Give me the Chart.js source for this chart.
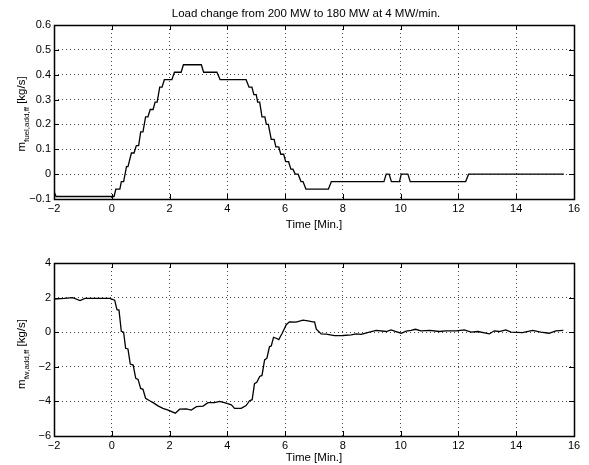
<!DOCTYPE html>
<html>
<head>
<meta charset="utf-8">
<script src="https://cdn.jsdelivr.net/npm/chart.js@4.4.0/dist/chart.umd.min.js"></script>
<style>
  html, body { margin: 0; padding: 0; background: #fff; }
  #wrap { position: relative; width: 589px; height: 465px; }
  canvas { position: absolute; left: 0; }
</style>
</head>
<body>
<div id="wrap">
  <canvas id="c1" width="589" height="232" style="top:0px"></canvas>
  <canvas id="c2" width="589" height="225" style="top:240px"></canvas>
</div>
<script>
// time axis ticks (minutes)
const timeTicks = [-2, 0, 2, 4, 6, 8, 10, 12, 14, 16];
const fuelTicks = [-0.1, 0, 0.1, 0.2, 0.3, 0.4, 0.5, 0.6];
const fwTicks = [-6, -4, -2, 0, 2, 4];

// additional fuel feed-forward [kg/s] (stepped signal)
const fuelT = [-2, -1.93, 0.08, 0.14, 0.28, 0.33, 0.41, 0.51, 0.56, 0.68, 0.77, 0.85, 0.93, 1.0, 1.08,
  1.17, 1.25, 1.33, 1.43, 1.5, 1.57, 1.66, 1.74, 1.82, 2.08, 2.17, 2.4, 2.48, 3.1, 3.18, 3.64, 3.75, 4.65,
  4.75, 4.85, 4.92, 5.0, 5.05, 5.12, 5.2, 5.3, 5.35, 5.42, 5.52, 5.62, 5.68, 5.78, 5.85, 5.95, 6.02, 6.12,
  6.2, 6.27, 6.35, 6.45, 6.55, 6.62, 6.72, 7.5, 7.6, 9.42, 9.5, 9.6, 9.68, 9.96, 10.02, 10.25, 10.33,
  12.25, 12.35, 15.65];
const fuelV = [-0.07, -0.09, -0.09, -0.06, -0.06, -0.03, -0.03, 0.03, 0.03, 0.085, 0.085, 0.115, 0.115, 0.17, 0.17,
  0.23, 0.23, 0.26, 0.26, 0.29, 0.29, 0.35, 0.35, 0.38, 0.38, 0.41, 0.41, 0.44, 0.44, 0.41, 0.41, 0.38, 0.38,
  0.35, 0.35, 0.32, 0.32, 0.29, 0.29, 0.23, 0.23, 0.2, 0.2, 0.14, 0.14, 0.11, 0.11, 0.08, 0.08, 0.05, 0.05,
  0.02, 0.02, 0.0, 0.0, -0.03, -0.03, -0.06, -0.06, -0.03, -0.03, 0.0, 0.0, -0.03, -0.03, 0.0, 0.0, -0.03,
  -0.03, 0.0, 0.0];

// additional feedwater feed-forward [kg/s]
const fwT = [-2, -1.65, -1.35, -1.1, -0.93, -0.07, 0.1, 0.18, 0.25, 0.33, 0.41, 0.48, 0.56, 0.64, 0.74,
  0.83, 0.91, 1.0, 1.08, 1.17, 1.31, 1.43, 1.6, 1.77, 1.95, 2.2, 2.35, 2.58, 2.75, 2.93, 3.16, 3.33, 3.56,
  3.73, 3.96, 4.14, 4.25, 4.48, 4.65, 4.77, 4.86, 4.94, 5.02, 5.12, 5.2, 5.29, 5.37, 5.46, 5.52, 5.6,
  5.69, 5.78, 5.9, 6.04, 6.15, 6.38, 6.62, 6.79, 6.96, 7.02, 7.08, 7.25, 7.42, 7.71, 8.0, 8.29, 8.46,
  8.63, 8.92, 9.15, 9.5, 9.67, 9.84, 10.02, 10.19, 10.36, 10.51, 10.7, 11.0, 11.34, 11.57, 11.92, 12.2,
  12.44, 12.67, 12.95, 13.07, 13.24, 13.41, 13.64, 13.82, 14.22, 14.57, 14.85, 15.14, 15.37, 15.63];
const fwV = [1.92, 1.95, 2.0, 1.83, 1.95, 1.95, 1.85, 1.3, 1.28, 0.05, 0.0, -0.93, -0.97, -1.84, -1.9,
  -2.67, -2.73, -3.25, -3.3, -3.82, -3.96, -4.07, -4.26, -4.4, -4.5, -4.68, -4.45, -4.43, -4.5, -4.3, -4.27, -4.07, -4.07,
  -4.0, -4.1, -4.2, -4.4, -4.4, -4.24, -3.96, -3.9, -2.98, -2.9, -2.56, -2.5, -1.6, -1.5, -0.83, -0.8, -0.3,
  -0.35, -0.43, -0.06, 0.43, 0.6, 0.58, 0.7, 0.65, 0.6, 0.6, 0.17, -0.1, -0.11, -0.2, -0.19, -0.15, -0.1,
  -0.13, 0.0, 0.1, 0.04, 0.13, 0.04, -0.06, 0.06, 0.1, 0.17, 0.08, 0.1, 0.04, 0.08, 0.08, 0.13,
  0.0, 0.04, -0.06, -0.1, 0.08, 0.04, 0.13, 0.0, -0.02, 0.1, 0.0, -0.06, 0.08, 0.1];

const FONT = 'Liberation Sans, Arial, Helvetica, sans-serif';

function fmt(v) {
  const r = Math.round(v * 100) / 100;
  return r < 0 ? '\u2212' + Math.abs(r) : String(r);
}

// box, inward ticks, y label with subscript, optional title
const matlabLook = {
  id: 'matlabLook',
  afterDraw(chart, args, opts) {
    const { ctx, chartArea: a } = chart;
    const xs = chart.scales.x, ys = chart.scales.y;
    ctx.save();
    ctx.strokeStyle = '#000';
    ctx.lineWidth = 1;
    ctx.beginPath();
    timeTicks.forEach(t => {
      const px = Math.round(xs.getPixelForValue(t)) + 0.5;
      ctx.moveTo(px, a.bottom); ctx.lineTo(px, a.bottom - 5);
      ctx.moveTo(px, a.top); ctx.lineTo(px, a.top + 5);
    });
    opts.yTicks.forEach(v => {
      const py = Math.round(ys.getPixelForValue(v)) + 0.5;
      ctx.moveTo(a.left, py); ctx.lineTo(a.left + 5, py);
      ctx.moveTo(a.right, py); ctx.lineTo(a.right - 5, py);
    });
    ctx.stroke();
    ctx.lineWidth = 1.5;
    ctx.strokeRect(Math.round(a.left) + 0.5, Math.round(a.top) + 0.5,
      Math.round(a.right - a.left), Math.round(a.bottom - a.top));

    // y label: m_{sub} [kg/s]
    ctx.fillStyle = '#000';
    ctx.textBaseline = 'alphabetic';
    ctx.textAlign = 'left';
    const big = '11.5px ' + FONT, small = '8px ' + FONT;
    ctx.font = big; const wm = ctx.measureText('m').width;
    const wu = ctx.measureText(' [kg/s]').width;
    ctx.font = small; const ws = ctx.measureText(opts.sub).width;
    const total = wm + ws + wu;
    ctx.translate(opts.labelX, opts.labelY);
    ctx.rotate(-Math.PI / 2);
    let x0 = -total / 2;
    ctx.font = big; ctx.fillText('m', x0, 0);
    ctx.font = small; ctx.fillText(opts.sub, x0 + wm, 4);
    ctx.font = big; ctx.fillText(' [kg/s]', x0 + wm + ws, 0);
    ctx.setTransform(1, 0, 0, 1, 0, 0);

    if (opts.title) {
      ctx.font = '11.5px ' + FONT;
      ctx.textAlign = 'center';
      ctx.textBaseline = 'middle';
      ctx.fillText(opts.title, opts.titleX, opts.titleY);
    }
    ctx.restore();
  }
};

function makeChart(id, t, v, yTicks, padTop, xHeight, look) {
  return new Chart(document.getElementById(id), {
    type: 'line',
    data: {
      datasets: [{
        data: t.map((x, i) => ({ x: x, y: v[i] })),
        borderColor: '#000',
        borderWidth: 1.3,
        pointRadius: 0,
        tension: 0,
        fill: false
      }]
    },
    options: {
      responsive: false,
      animation: false,
      events: [],
      layout: { padding: { left: 0, right: 15, top: padTop, bottom: 0 } },
      plugins: { legend: { display: false }, tooltip: { enabled: false }, matlabLook: look },
      scales: {
        x: {
          type: 'linear',
          min: timeTicks[0], max: timeTicks[timeTicks.length - 1],
          afterBuildTicks: s => { s.ticks = timeTicks.map(value => ({ value })); },
          afterFit: s => { s.height = xHeight; },
          ticks: { color: '#000', font: { family: FONT, size: 11 }, padding: 3, maxRotation: 0, callback: fmt },
          grid: { color: '#444', lineWidth: 1, drawTicks: false },
          border: { display: false, dash: [1, 3] },
          title: { display: true, text: 'Time [Min.]', color: '#000', font: { family: FONT, size: 11.5 }, padding: { top: 1, bottom: 0 } }
        },
        y: {
          min: yTicks[0], max: yTicks[yTicks.length - 1],
          afterBuildTicks: s => { s.ticks = yTicks.map(value => ({ value })); },
          afterFit: s => { s.width = 54; },
          ticks: { color: '#000', font: { family: FONT, size: 11 }, padding: 3, callback: fmt },
          grid: { color: '#444', lineWidth: 1, drawTicks: false },
          border: { display: false, dash: [1, 3] }
        }
      }
    },
    plugins: [matlabLook]
  });
}

makeChart('c1', fuelT, fuelV, fuelTicks, 25, 33, {
  yTicks: fuelTicks, sub: 'fuel,add,ff', labelX: 25, labelY: 114,
  title: 'Load change from 200 MW to 180 MW at 4 MW/min.', titleX: 306, titleY: 14
});
makeChart('c2', fwT, fwV, fwTicks, 23, 29, {
  yTicks: fwTicks, sub: 'fw,add,ff', labelX: 25, labelY: 114
});
</script>
</body>
</html>
